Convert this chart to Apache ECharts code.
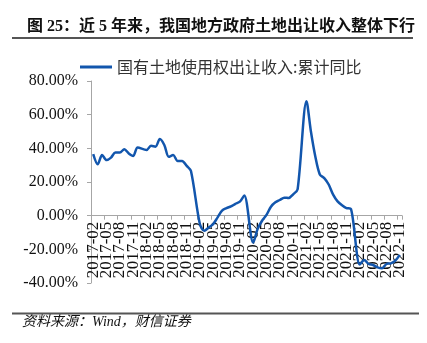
<!DOCTYPE html>
<html>
<head>
<meta charset="utf-8">
<script src="https://cdn.jsdelivr.net/npm/echarts@6/dist/echarts.min.js"></script>
<style>
  html, body { margin: 0; padding: 0; background: #fff; }
  #chart { width: 427px; height: 343px; }
</style>
</head>
<body>
<div id="chart"></div>
<script>
// Monthly categories, 2017-02 .. 2022-11
const months = [
  '2017-02','2017-03','2017-04','2017-05','2017-06','2017-07','2017-08','2017-09','2017-10','2017-11','2017-12',
  '2018-01','2018-02','2018-03','2018-04','2018-05','2018-06','2018-07','2018-08','2018-09','2018-10','2018-11','2018-12',
  '2019-01','2019-02','2019-03','2019-04','2019-05','2019-06','2019-07','2019-08','2019-09','2019-10','2019-11','2019-12',
  '2020-01','2020-02','2020-03','2020-04','2020-05','2020-06','2020-07','2020-08','2020-09','2020-10','2020-11','2020-12',
  '2021-01','2021-02','2021-03','2021-04','2021-05','2021-06','2021-07','2021-08','2021-09','2021-10','2021-11','2021-12',
  '2022-01','2022-02','2022-03','2022-04','2022-05','2022-06','2022-07','2022-08','2022-09','2022-10','2022-11'
];

// 国有土地使用权出让收入:累计同比 (%), January has no cumulative figure
const landSaleYoY = [
  36.5, 30.5, 36, 33, 34.5, 37.5, 37.5, 39.5, 37, 35.5, 40.5,
  null, 39, 41.5, 41, 45.5, 42, 35, 36, 32.5, 32.5, 29.7, 26.5,
  null, -5, -9, -7, -5, -1, 3, 4.5, 5.5, 7, 8.3, 12,
  null, -16, -8, -3, 0.5, 5.3, 7.9, 9.3, 10.7, 10.5, 12.7, 15.6,
  null, 68, 50, 35, 24.5, 22.3, 18.5, 12.5, 8.5, 6.2, 4.5, 4,
  null, -29, -26.3, -28.7, -29.3, -30.7, -31.3, -28.7, -28.3, -26.7, -23.3
];

const seriesName = '国有土地使用权出让收入:累计同比';
const titleText = '图 25：近 5 年来，我国地方政府土地出让收入整体下行';
const sourceText = '资料来源：Wind，财信证券';

const yTicks = { min: -40, max: 80, step: 20 };
const labelStep = 3; // one date label every quarter

const serif = "'Liberation Serif', 'Noto Sans CJK SC', serif";
const lineBlue = '#1256ad';
const axisGrey = '#a6a6a6';

// plot area
const gridBox = { left: 91, right: 25, top: 81, bottom: 60 };
const plotHeight = 343 - gridBox.top - gridBox.bottom;
// category axis sits on the 0% line
const zeroOffset = -plotHeight * (0 - yTicks.min) / (yTicks.max - yTicks.min);

const dateLabel = {
  rotate: 90,
  margin: 6,
  fontFamily: serif,
  fontSize: 17,
  color: '#111',
  hideOverlap: false
};

// The dense quarterly labels are split over two stacked category axes
// (even and odd quarters) so that none of them gets dropped for overlap.
function dateAxis(phase, withLine) {
  return {
    type: 'category',
    data: months,
    position: 'bottom',
    boundaryGap: true,
    offset: zeroOffset,
    axisLine: { show: withLine, onZero: false, lineStyle: { color: axisGrey, width: 1 } },
    axisTick: { show: withLine, interval: labelStep - 1, length: 4, lineStyle: { color: axisGrey } },
    axisLabel: Object.assign({
      interval: idx => idx % (labelStep * 2) === phase
    }, dateLabel),
    splitLine: { show: false }
  };
}

const chart = echarts.init(document.getElementById('chart'), null, { renderer: 'canvas' });

chart.setOption({
  animation: false,
  backgroundColor: '#ffffff',
  title: {
    text: titleText,
    left: 22,
    top: 14,
    textStyle: {
      fontFamily: serif,
      fontWeight: 'bold',
      fontSize: 16,
      color: '#111'
    }
  },
  legend: {
    left: 75,
    top: 54,
    itemWidth: 32,
    itemHeight: 3,
    data: [{ name: seriesName, icon: 'rect' }],
    textStyle: {
      fontFamily: "'Noto Sans CJK SC', sans-serif",
      fontSize: 16,
      color: '#333'
    }
  },
  grid: {
    left: gridBox.left,
    right: gridBox.right,
    top: gridBox.top,
    bottom: gridBox.bottom,
    containLabel: false,
    outerBoundsMode: 'none'
  },
  xAxis: [
    dateAxis(0, true),
    dateAxis(labelStep, false)
  ],
  yAxis: {
    type: 'value',
    min: yTicks.min,
    max: yTicks.max,
    interval: yTicks.step,
    axisLine: { show: true, lineStyle: { color: axisGrey, width: 1 } },
    axisTick: { show: true, length: 4, lineStyle: { color: axisGrey } },
    axisLabel: {
      margin: 13,
      fontFamily: serif,
      fontSize: 16,
      color: '#111',
      formatter: v => v.toFixed(2) + '%'
    },
    splitLine: { show: false }
  },
  series: [{
    name: seriesName,
    type: 'line',
    xAxisIndex: 0,
    data: landSaleYoY,
    connectNulls: true,
    smooth: 0.3,
    showSymbol: false,
    symbol: 'none',
    lineStyle: { color: lineBlue, width: 2.5 },
    itemStyle: { color: lineBlue },
    z: 5
  }],
  graphic: [
    {
      type: 'line',
      shape: { x1: 12, y1: 38, x2: 413, y2: 38 },
      style: { stroke: '#555', lineWidth: 2 }
    },
    {
      type: 'line',
      shape: { x1: 12, y1: 313.5, x2: 419, y2: 313.5 },
      style: { stroke: '#555', lineWidth: 2 }
    },
    {
      type: 'text',
      left: 22,
      top: 315,
      style: {
        text: sourceText,
        fontFamily: "'Liberation Serif', 'Noto Sans CJK SC', serif",
        fontStyle: 'italic',
        fontSize: 14,
        fill: '#111'
      }
    }
  ]
});
</script>
</body>
</html>
